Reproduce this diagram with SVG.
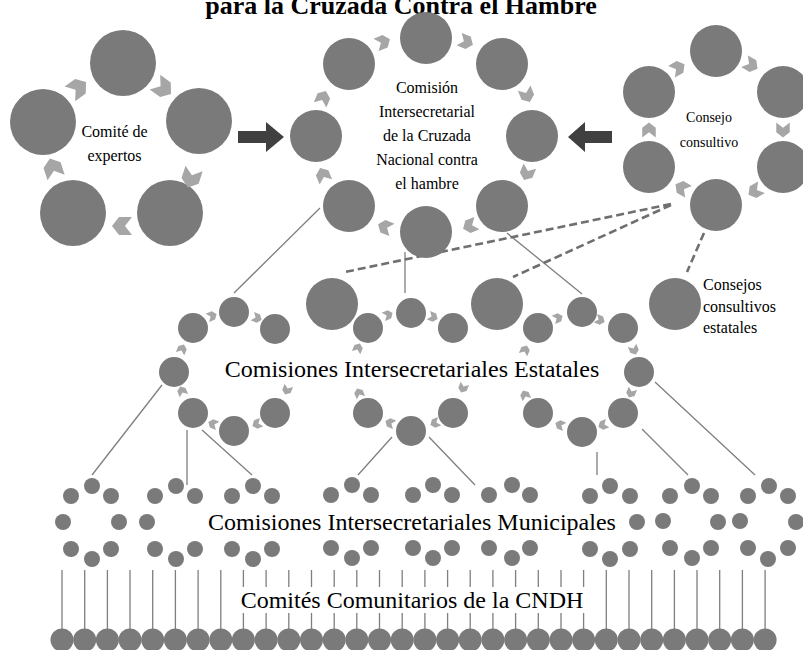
<svg xmlns="http://www.w3.org/2000/svg" xmlns:xlink="http://www.w3.org/1999/xlink" width="803" height="650" viewBox="0 0 803 650">
<style>
.c{fill:#7a7a7a}
.ch{fill:#a6a6a6}
.ln{stroke:#7f7f7f;stroke-width:1.3;fill:none}
.dl{stroke:#6f6f6f;stroke-width:2.6;stroke-dasharray:8 4;fill:none}
.da{fill:#404040}
.t{font-family:"Liberation Serif","Times New Roman",serif;fill:#000}
.s16{font-size:16px}
.s24{font-size:24px}
</style>
<defs>
<path id="chev" d="M-10,-9 L3,-9 L10,0 L3,9 L-10,9 L-3,0 Z"/>
</defs>
<rect width="803" height="650" fill="#fff"/>

<g id="title">
<text class="t" x="401" y="14" font-size="26" font-weight="bold" text-anchor="middle">para la Cruzada Contra el Hambre</text>
</g>

<g id="connectors">
<path class="ln" d="M320,208L234,293M405,252V293M507,233L582,294M162,385L92,475M187,430V485M202,430L252,475M392,437L358,475M429,437L475,485M597,452V475M642,429L688,475M655,382L755,475"/>
<path class="dl" d="M671,204L345,272M671,205L513,277M704,233L687,272"/>
<path class="da" d="M238,131H266V122L284,137L266,152V143H238Z"/>
<path class="da" d="M612,131H585V122L568,137L585,152V143H612Z"/>
</g>

<g id="comite-expertos">
<circle class="c" cx="123" cy="63" r="33"/>
<circle class="c" cx="199" cy="121" r="33"/>
<circle class="c" cx="170" cy="213" r="33"/>
<circle class="c" cx="73" cy="213" r="33"/>
<circle class="c" cx="43" cy="122" r="33"/>
<use xlink:href="#chev" class="ch" transform="translate(78,88) rotate(-36)"/>
<use xlink:href="#chev" class="ch" transform="translate(163,88) rotate(36)"/>
<use xlink:href="#chev" class="ch" transform="translate(191,178) rotate(108)"/>
<use xlink:href="#chev" class="ch" transform="translate(122,226) rotate(180)"/>
<use xlink:href="#chev" class="ch" transform="translate(53,168) rotate(252)"/>
<text class="t s16" x="114.5" text-anchor="middle"><tspan x="114.5" y="137">Comité de</tspan><tspan x="114.5" y="161">expertos</tspan></text>
</g>

<g id="comision-intersecretarial">
<circle class="c" cx="426" cy="38" r="26"/>
<circle class="c" cx="502" cy="64" r="26"/>
<circle class="c" cx="532" cy="136" r="26"/>
<circle class="c" cx="502" cy="206" r="26"/>
<circle class="c" cx="426" cy="232" r="26"/>
<circle class="c" cx="349" cy="206" r="26"/>
<circle class="c" cx="316" cy="136" r="26"/>
<circle class="c" cx="349" cy="64" r="26"/>
<use xlink:href="#chev" class="ch" transform="translate(383,42) rotate(-22.5) scale(0.75)"/>
<use xlink:href="#chev" class="ch" transform="translate(466,42) rotate(22.5) scale(0.75)"/>
<use xlink:href="#chev" class="ch" transform="translate(527,95) rotate(67.5) scale(0.75)"/>
<use xlink:href="#chev" class="ch" transform="translate(527,173) rotate(112.5) scale(0.75)"/>
<use xlink:href="#chev" class="ch" transform="translate(470,226) rotate(157.5) scale(0.75)"/>
<use xlink:href="#chev" class="ch" transform="translate(385,227) rotate(202.5) scale(0.75)"/>
<use xlink:href="#chev" class="ch" transform="translate(323,175) rotate(247.5) scale(0.75)"/>
<use xlink:href="#chev" class="ch" transform="translate(323,98) rotate(292.5) scale(0.75)"/>
<text class="t s16" text-anchor="middle"><tspan x="427" y="93">Comisión</tspan><tspan x="427" y="117">Intersecretarial</tspan><tspan x="427" y="141">de la Cruzada</tspan><tspan x="427" y="165">Nacional contra</tspan><tspan x="427" y="189">el hambre</tspan></text>
</g>

<g id="consejo-consultivo">
<circle class="c" cx="716" cy="51" r="26"/>
<circle class="c" cx="783" cy="92" r="26"/>
<circle class="c" cx="783" cy="167" r="26"/>
<circle class="c" cx="716" cy="205" r="26"/>
<circle class="c" cx="649" cy="167" r="26"/>
<circle class="c" cx="649" cy="92" r="26"/>
<use xlink:href="#chev" class="ch" transform="translate(678,68) rotate(-30) scale(0.75)"/>
<use xlink:href="#chev" class="ch" transform="translate(751,65) rotate(30) scale(0.75)"/>
<use xlink:href="#chev" class="ch" transform="translate(783,130) rotate(90) scale(0.75)"/>
<use xlink:href="#chev" class="ch" transform="translate(755,191) rotate(150) scale(0.75)"/>
<use xlink:href="#chev" class="ch" transform="translate(682,188) rotate(210) scale(0.75)"/>
<use xlink:href="#chev" class="ch" transform="translate(649,130) rotate(270) scale(0.75)"/>
<text class="t" font-size="14" text-anchor="middle"><tspan x="709" y="122">Consejo</tspan><tspan x="709" y="147">consultivo</tspan></text>
</g>

<g id="consejos-estatales">
<circle class="c" cx="332" cy="304" r="26"/>
<circle class="c" cx="497" cy="304" r="26"/>
<circle class="c" cx="675" cy="304" r="26"/>
<text class="t s16"><tspan x="703" y="290">Consejos</tspan><tspan x="703" y="312">consultivos</tspan><tspan x="703" y="333">estatales</tspan></text>
</g>

<g id="estatal-izquierda">
<circle class="c" cx="193" cy="328" r="15"/>
<circle class="c" cx="234" cy="312" r="15"/>
<circle class="c" cx="275" cy="329" r="15"/>
<circle class="c" cx="174" cy="372" r="15"/>
<circle class="c" cx="275" cy="413" r="15"/>
<circle class="c" cx="234" cy="431" r="15"/>
<circle class="c" cx="193" cy="413" r="15"/>
<use xlink:href="#chev" class="ch" transform="translate(212,316) rotate(-22.5) scale(0.5)"/>
<use xlink:href="#chev" class="ch" transform="translate(257,318) rotate(22.5) scale(0.5)"/>
<use xlink:href="#chev" class="ch" transform="translate(287,390) rotate(112.5) scale(0.5)"/>
<use xlink:href="#chev" class="ch" transform="translate(257,424) rotate(157.5) scale(0.5)"/>
<use xlink:href="#chev" class="ch" transform="translate(213,424) rotate(202.5) scale(0.5)"/>
<use xlink:href="#chev" class="ch" transform="translate(182,391) rotate(247.5) scale(0.5)"/>
<use xlink:href="#chev" class="ch" transform="translate(182,349) rotate(292.5) scale(0.5)"/>
</g>

<g id="estatal-centro">
<circle class="c" cx="368" cy="328" r="15"/>
<circle class="c" cx="411" cy="313" r="15"/>
<circle class="c" cx="453" cy="328" r="15"/>
<circle class="c" cx="453" cy="413" r="15"/>
<circle class="c" cx="411" cy="431" r="15"/>
<circle class="c" cx="368" cy="413" r="15"/>
<use xlink:href="#chev" class="ch" transform="translate(388,315) rotate(-22.5) scale(0.5)"/>
<use xlink:href="#chev" class="ch" transform="translate(433,317) rotate(22.5) scale(0.5)"/>
<use xlink:href="#chev" class="ch" transform="translate(463,388) rotate(112.5) scale(0.5)"/>
<use xlink:href="#chev" class="ch" transform="translate(435,423) rotate(157.5) scale(0.5)"/>
<use xlink:href="#chev" class="ch" transform="translate(390,423) rotate(202.5) scale(0.5)"/>
<use xlink:href="#chev" class="ch" transform="translate(359,393) rotate(247.5) scale(0.5)"/>
<use xlink:href="#chev" class="ch" transform="translate(358,348) rotate(292.5) scale(0.5)"/>
</g>

<g id="estatal-derecha">
<circle class="c" cx="538" cy="328" r="15"/>
<circle class="c" cx="582" cy="312" r="15"/>
<circle class="c" cx="623" cy="328" r="15"/>
<circle class="c" cx="639" cy="372" r="15"/>
<circle class="c" cx="623" cy="413" r="15"/>
<circle class="c" cx="582" cy="432" r="15"/>
<circle class="c" cx="538" cy="413" r="15"/>
<use xlink:href="#chev" class="ch" transform="translate(558,318) rotate(-22.5) scale(0.5)"/>
<use xlink:href="#chev" class="ch" transform="translate(600,320) rotate(22.5) scale(0.5)"/>
<use xlink:href="#chev" class="ch" transform="translate(634,350) rotate(67.5) scale(0.5)"/>
<use xlink:href="#chev" class="ch" transform="translate(631,393) rotate(112.5) scale(0.5)"/>
<use xlink:href="#chev" class="ch" transform="translate(603,425) rotate(157.5) scale(0.5)"/>
<use xlink:href="#chev" class="ch" transform="translate(560,425) rotate(202.5) scale(0.5)"/>
<use xlink:href="#chev" class="ch" transform="translate(525,395) rotate(247.5) scale(0.5)"/>
<use xlink:href="#chev" class="ch" transform="translate(525,350) rotate(292.5) scale(0.5)"/>
</g>

<g id="label-estatales">
<text class="t s24" x="412" y="377" text-anchor="middle">Comisiones Intersecretariales Estatales</text>
</g>

<g id="municipales">
<g id="mun-1" class="c"><circle cx="92" cy="486" r="8"/><circle cx="71" cy="496" r="8"/><circle cx="111" cy="496" r="8"/><circle cx="63" cy="522" r="8"/><circle cx="119" cy="522" r="8"/><circle cx="71" cy="549" r="8"/><circle cx="111" cy="549" r="8"/><circle cx="92" cy="559" r="8"/></g>
<g id="mun-2" class="c"><circle cx="176" cy="486" r="8"/><circle cx="155" cy="496" r="8"/><circle cx="195" cy="496" r="8"/><circle cx="147" cy="522" r="8"/><circle cx="155" cy="549" r="8"/><circle cx="195" cy="549" r="8"/><circle cx="176" cy="559" r="8"/></g>
<g id="mun-3" class="c"><circle cx="253" cy="486" r="8"/><circle cx="232" cy="496" r="8"/><circle cx="272" cy="496" r="8"/><circle cx="232" cy="549" r="8"/><circle cx="272" cy="549" r="8"/><circle cx="253" cy="559" r="8"/></g>
<g id="mun-4" class="c"><circle cx="352" cy="485" r="8"/><circle cx="331" cy="495" r="8"/><circle cx="371" cy="495" r="8"/><circle cx="331" cy="548" r="8"/><circle cx="371" cy="548" r="8"/><circle cx="352" cy="558" r="8"/></g>
<g id="mun-5" class="c"><circle cx="433" cy="485" r="8"/><circle cx="413" cy="495" r="8"/><circle cx="452" cy="495" r="8"/><circle cx="413" cy="548" r="8"/><circle cx="452" cy="548" r="8"/><circle cx="433" cy="558" r="8"/></g>
<g id="mun-6" class="c"><circle cx="512" cy="485" r="8"/><circle cx="489" cy="495" r="8"/><circle cx="530" cy="495" r="8"/><circle cx="489" cy="548" r="8"/><circle cx="530" cy="548" r="8"/><circle cx="512" cy="558" r="8"/></g>
<g id="mun-7" class="c"><circle cx="610" cy="486" r="8"/><circle cx="590" cy="496" r="8"/><circle cx="630" cy="496" r="8"/><circle cx="637" cy="522" r="8"/><circle cx="590" cy="549" r="8"/><circle cx="630" cy="549" r="8"/><circle cx="610" cy="559" r="8"/></g>
<g id="mun-8" class="c"><circle cx="692" cy="486" r="8"/><circle cx="670" cy="496" r="8"/><circle cx="711" cy="496" r="8"/><circle cx="663" cy="521" r="8"/><circle cx="718" cy="522" r="8"/><circle cx="670" cy="548" r="8"/><circle cx="711" cy="548" r="8"/><circle cx="692" cy="558" r="8"/></g>
<g id="mun-9" class="c"><circle cx="769" cy="486" r="8"/><circle cx="748" cy="496" r="8"/><circle cx="788" cy="496" r="8"/><circle cx="740" cy="521" r="8"/><circle cx="796" cy="522" r="8"/><circle cx="748" cy="548" r="8"/><circle cx="788" cy="548" r="8"/><circle cx="768" cy="559" r="8"/></g>
<text class="t s24" x="412" y="530" text-anchor="middle">Comisiones Intersecretariales Municipales</text>
</g>

<g id="comites-comunitarios">
<path class="ln" d="M62,570V630M84.7,570V630M107.4,570V630M130,570V630M152.7,570V630M175.4,570V630M198.1,570V630M220.8,570V630M243.4,570V587M243.4,613V630M266.1,570V587M266.1,613V630M288.8,570V587M288.8,613V630M311.5,570V587M311.5,613V630M334.2,570V587M334.2,613V630M356.8,570V587M356.8,613V630M379.5,570V587M379.5,613V630M402.2,570V587M402.2,613V630M424.9,570V587M424.9,613V630M447.6,570V587M447.6,613V630M470.2,570V587M470.2,613V630M492.9,570V587M492.9,613V630M515.6,570V587M515.6,613V630M538.3,570V587M538.3,613V630M561,570V587M561,613V630M583.6,570V587M583.6,613V630M606.3,570V630M629,570V630M651.7,570V630M674.4,570V630M697,570V630M719.7,570V630M742.4,570V630M765.1,570V630"/>
<g class="c">
<circle cx="62" cy="640" r="11.5"/><circle cx="84.7" cy="640" r="11.5"/><circle cx="107.4" cy="640" r="11.5"/><circle cx="130" cy="640" r="11.5"/><circle cx="152.7" cy="640" r="11.5"/><circle cx="175.4" cy="640" r="11.5"/><circle cx="198.1" cy="640" r="11.5"/><circle cx="220.8" cy="640" r="11.5"/><circle cx="243.4" cy="640" r="11.5"/><circle cx="266.1" cy="640" r="11.5"/><circle cx="288.8" cy="640" r="11.5"/><circle cx="311.5" cy="640" r="11.5"/><circle cx="334.2" cy="640" r="11.5"/><circle cx="356.8" cy="640" r="11.5"/><circle cx="379.5" cy="640" r="11.5"/><circle cx="402.2" cy="640" r="11.5"/><circle cx="424.9" cy="640" r="11.5"/><circle cx="447.6" cy="640" r="11.5"/><circle cx="470.2" cy="640" r="11.5"/><circle cx="492.9" cy="640" r="11.5"/><circle cx="515.6" cy="640" r="11.5"/><circle cx="538.3" cy="640" r="11.5"/><circle cx="561" cy="640" r="11.5"/><circle cx="583.6" cy="640" r="11.5"/><circle cx="606.3" cy="640" r="11.5"/><circle cx="629" cy="640" r="11.5"/><circle cx="651.7" cy="640" r="11.5"/><circle cx="674.4" cy="640" r="11.5"/><circle cx="697" cy="640" r="11.5"/><circle cx="719.7" cy="640" r="11.5"/><circle cx="742.4" cy="640" r="11.5"/><circle cx="765.1" cy="640" r="11.5"/>
</g>
<text class="t s24" x="412" y="608" text-anchor="middle">Comités Comunitarios de la CNDH</text>
</g>
</svg>
